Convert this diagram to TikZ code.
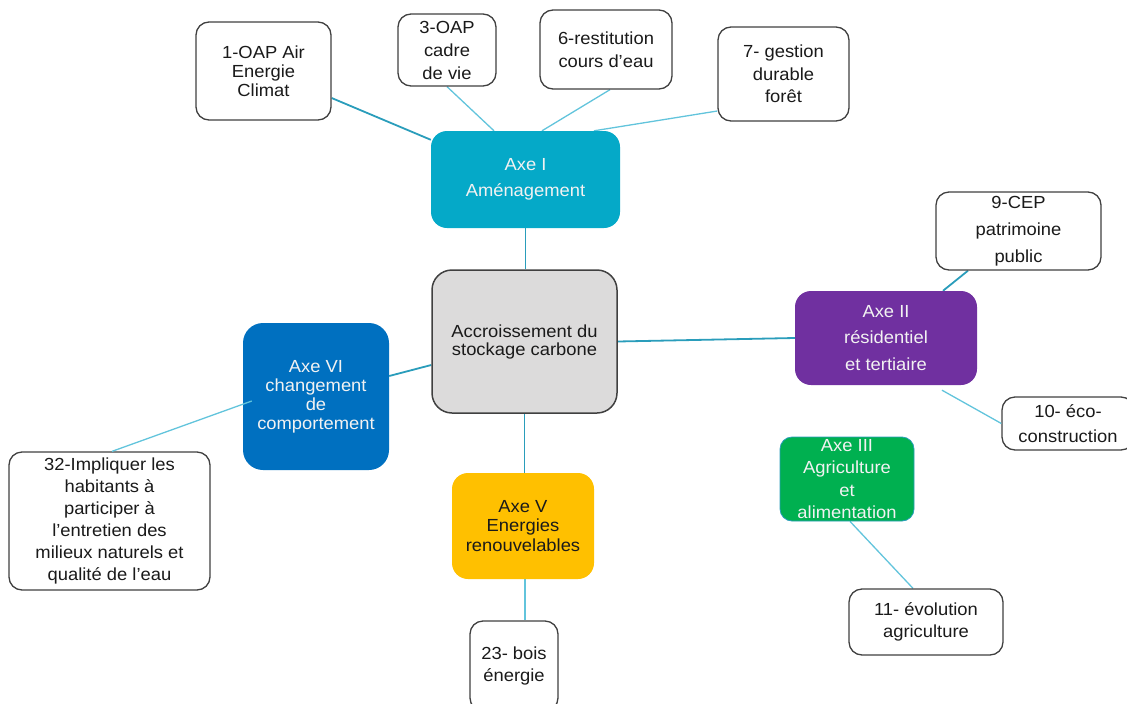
\documentclass[tikz,border=0pt]{standalone}
\usepackage{fontspec}
\setmainfont{Liberation Sans}[FakeStretch=1.05]
\usetikzlibrary{calc,backgrounds}

\definecolor{boxline}{HTML}{404040}
\definecolor{txt}{HTML}{1A1A1A}
\definecolor{axeIcol}{HTML}{05A9C8}
\definecolor{axeIIcol}{HTML}{7030A0}
\definecolor{axeIIIcol}{HTML}{00B050}
\definecolor{axeVcol}{HTML}{FFC000}
\definecolor{axeVIcol}{HTML}{0070C0}
\definecolor{hubfill}{HTML}{DCDBDB}
\definecolor{linkdark}{HTML}{2A9DBB}
\definecolor{linklight}{HTML}{62C4DC}

\newcommand\lsz[1]{\fontsize{17.5}{#1}\selectfont}

\tikzset{
  box/.style={draw=boxline, line width=1.3pt, fill=white, rounded corners=13pt,
    align=center, inner sep=0pt, text=txt},
  axe/.style={rounded corners=16pt, align=center, inner sep=0pt, text=white!95!black},
  hub/.style={draw=boxline, line width=1.5pt, fill=hubfill, rounded corners=20pt,
    align=center, inner sep=0pt, text=txt},
  linkd/.style={draw=linkdark, line width=1.8pt},
  linkl/.style={draw=linklight, line width=1.3pt},
}

\begin{document}
\begin{tikzpicture}[x=1pt,y=-1pt]
\useasboundingbox (0,0) rectangle (1127,704);

% central hub and axes
\node[hub, minimum width=185, minimum height=143, font=\lsz{18}] (hub) at (524.5,341.5)
  {Accroissement du\\stockage carbone};
\node[axe, fill=axeIcol, minimum width=189, minimum height=97, font=\lsz{26}] (axeI) at (525.5,179.5)
  {Axe I\\Aménagement};
\node[axe, fill=axeIIcol, minimum width=182, minimum height=94, font=\lsz{26.5}] (axeII) at (886,338)
  {Axe II\\résidentiel\\et tertiaire};
\node[axe, fill=axeIIIcol, draw=linkdark, line width=0.8pt, minimum width=134, minimum height=84,
  rounded corners=12pt, font=\lsz{22.5}] (axeIII) at (847,479)
  {Axe III\\Agriculture\\et\\alimentation};
\node[axe, fill=axeVcol, text=txt, minimum width=142, minimum height=106, font=\lsz{19.5}] (axeV) at (523,526)
  {Axe V\\Energies\\renouvelables};
\node[axe, fill=axeVIcol, minimum width=146, minimum height=147, rounded corners=20pt, font=\lsz{19}] (axeVI) at (316,396.5)
  {Axe VI\\changement\\de\\comportement};

% actions
\node[box, minimum width=135, minimum height=98, font=\lsz{19}] (a1) at (263.5,71)
  {1-OAP Air\\Energie\\Climat};
\node[box, minimum width=98, minimum height=72, font=\lsz{23}] (a3) at (447,50)
  {3-OAP\\cadre\\de vie};
\node[box, minimum width=132, minimum height=79, font=\lsz{23}] (a6) at (606,49.5)
  {6-restitution\\cours d’eau};
\node[box, minimum width=131, minimum height=94, font=\lsz{22.5}] (a7) at (783.5,74)
  {7- gestion\\durable\\forêt};
\node[box, minimum width=165, minimum height=78, font=\lsz{27}] (a9) at (1018.5,231)
  {9-CEP\\patrimoine\\public};
\node[box, minimum width=132, minimum height=53, font=\lsz{25}] (a10) at (1068,423.5)
  {10- éco-\\construction};
\node[box, minimum width=154, minimum height=66, font=\lsz{22}] (a11) at (926,622)
  {11- évolution\\agriculture};
\node[box, minimum width=88, minimum height=90, font=\lsz{22}] (a23) at (514,666)
  {23- bois\\énergie};
\node[box, minimum width=201, minimum height=138, font=\lsz{22}] (a32) at (109.5,521)
  {32-Impliquer les\\habitants à\\participer à\\l’entretien des\\milieux naturels et\\qualité de l’eau};

% connectors behind the boxes
\begin{scope}[on background layer]
  \draw[linkd] ($(a1.east)+(0,27)$) -- ($(axeI.north west)+(0,9)$);
  \draw[linkl] (a3.south) -- ($(axeI.north)+(-31.5,0)$);
  \draw[linkl] ($(a6.south)+(4,0)$) -- ($(axeI.north)+(16.5,0)$);
  \draw[linkl] ($(a7.west)+(0,37)$) -- ($(axeI.north)+(68.5,0)$);
  \draw[linkd] (axeI.south) -- (axeI.south |- hub.north);
  \draw[linkd] (hub.east) -- (axeII.west);
  \draw[linkd] ($(a9.south)+(-50.5,0)$) -- ($(axeII.north)+(57,0)$);
  \draw[linkd] (hub.south) -- (hub.south |- axeV.north);
  \draw[linkd] ($(hub.west)+(0,23.5)$) -- ($(axeVI.east)+(0,-20.5)$);
  \draw[linkl] (axeV.south -| a23.north) ++(11,0) coordinate (v5) -- (v5 |- a23.north);
  \draw[linkl] ($(axeIII.south)+(3,0)$) -- ($(a11.north)+(-13,0)$);
\end{scope}
\draw[linkl] ($(axeII.south)+(56,5)$) -- (a10.west);
\draw[linkl] ($(axeVI.west)+(9,4.5)$) -- ($(a32.north)+(2.5,0)$);
\end{tikzpicture}
\end{document}
